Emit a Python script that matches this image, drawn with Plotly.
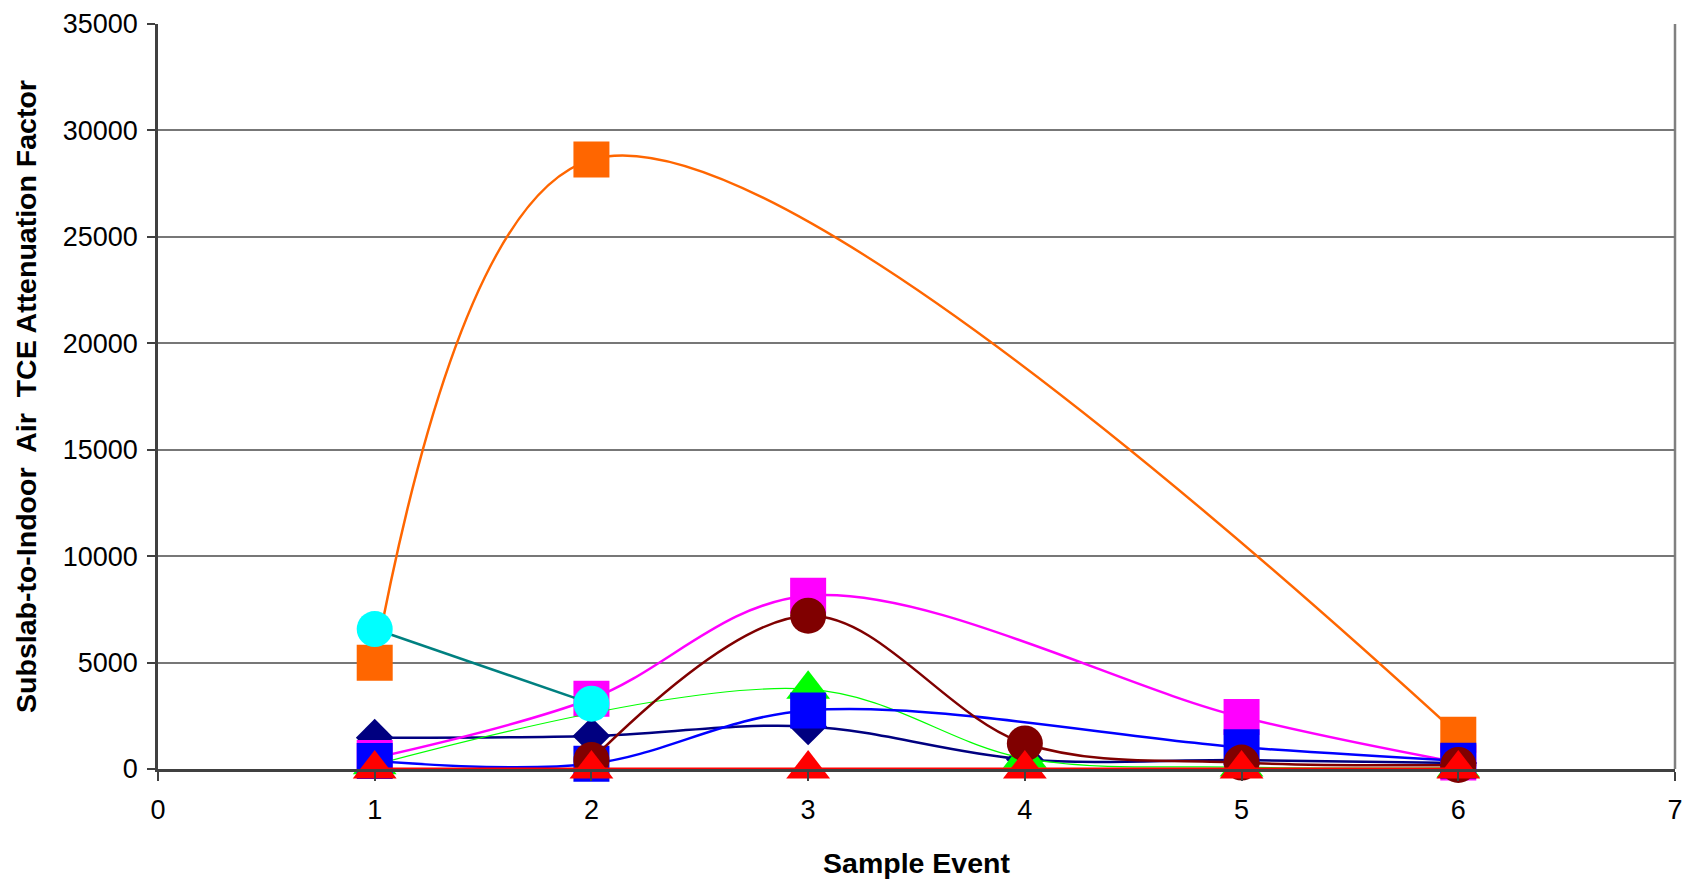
import plotly.graph_objects as go

# Sample events on the x axis
events = [1, 2, 3, 4, 5, 6]

# Subslab-to-indoor air TCE attenuation factors per sampling location
# (None = no sample for that event)
series_a = [4990, 28630, None, None, None, 1610]     # orange squares
series_b = [1470, 1550, 2000, 450, 420, 280]         # navy diamonds
series_c = [520, 3300, 8140, None, 2440, 300]        # magenta squares
series_d = [200, None, 3750, 500, 90, 50]            # green triangles
series_e = [370, 250, 2750, None, 1020, 390]         # blue squares
series_f = [6575, 3070, None, None, None, None]      # cyan circles
series_g = [None, 420, 7200, 1200, 300, 190]         # dark red circles
series_h = [0, 0, 0, 0, 0, 0]                        # red triangles

y_ticks = [0, 5000, 10000, 15000, 20000, 25000, 30000, 35000]
x_ticks = [0, 1, 2, 3, 4, 5, 6, 7]

FONT = "Liberation Sans, Arial, sans-serif"

styles = [
    ("Location A", series_a, "#FF6600", "#FF6600", 2.5, "square", 36),
    ("Location B", series_b, "#000080", "#000080", 2.5, "diamond", 29),
    ("Location C", series_c, "#FF00FF", "#FF00FF", 2.5, "square", 36),
    ("Location D", series_d, "#00FF00", "#00FF00", 1.2, "triangle-up", 38),
    ("Location E", series_e, "#0000FF", "#0000FF", 2.5, "square", 36),
    ("Location F", series_f, "#008080", "#00FFFF", 2.5, "circle", 36),
    ("Location G", series_g, "#800000", "#800000", 2.5, "circle", 36),
    ("Location H", series_h, "#FF0000", "#FF0000", 3, "triangle-up", 38),
]

fig = go.Figure()
for name, vals, lcol, mcol, lw, sym, size in styles:
    fig.add_trace(go.Scatter(
        x=events, y=vals, name=name, mode="lines+markers",
        line=dict(color=lcol, width=lw, shape="spline", smoothing=1),
        marker=dict(color=mcol, symbol=sym, size=size, line=dict(width=0)),
        connectgaps=True, cliponaxis=False, showlegend=False,
    ))

# thin grey frame on the right side of the plot area
fig.add_shape(type="line", xref="paper", yref="paper", x0=1, x1=1, y0=0, y1=1,
              line=dict(color="#808080", width=2.5), layer="below")

fig.update_layout(
    width=1686, height=879,
    margin=dict(l=158, r=11, t=24, b=110),
    paper_bgcolor="white", plot_bgcolor="white",
    font=dict(family=FONT, size=27, color="black"),
    xaxis=dict(
        range=[0, 7], tickvals=x_ticks, ticktext=[str(v) for v in x_ticks],
        showgrid=False, zeroline=False, automargin=False,
        showline=True, linecolor="#404040", linewidth=2.5,
        ticks="outside", ticklen=9, tickwidth=1.5, tickcolor="#404040",
        ticklabelstandoff=6,
        title=dict(text="<b>Sample Event</b>", font=dict(size=28.5), standoff=30),
    ),
    yaxis=dict(
        range=[0, 35000], tickvals=y_ticks, ticktext=[str(v) for v in y_ticks],
        showgrid=True, gridcolor="#777777", gridwidth=1.5, zeroline=False,
        automargin=False,
        showline=True, linecolor="#404040", linewidth=2.5,
        ticks="outside", ticklen=8, tickwidth=1.5, tickcolor="#404040",
        ticklabelstandoff=4,
        title=dict(text="<b>Subslab-to-Indoor  Air  TCE Attenuation Factor</b>",
                   font=dict(size=28.5), standoff=18),
    ),
)

fig.write_html("out.html")
